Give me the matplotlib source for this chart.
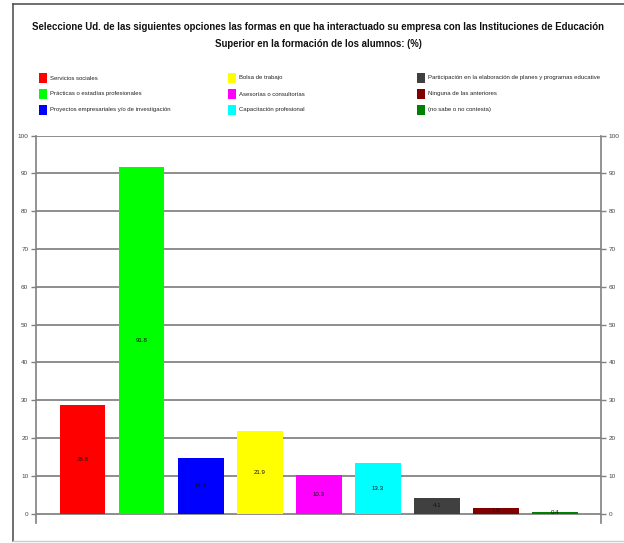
import numpy as np
import matplotlib.pyplot as plt
from matplotlib.patches import Rectangle
from matplotlib.lines import Line2D

categories = ['Servicios sociales',
              'Prácticas o estadías profesionales',
              'Proyectos empresariales y/o de investigación',
              'Bolsa de trabajo',
              'Asesorías o consultorías',
              'Capacitación profesional',
              'Participación en la elaboración de planes y programas educative',
              'Ninguna de las anteriores',
              '(no sabe o no contesta)']
values = [28.8, 91.8, 14.8, 21.9, 10.3, 13.3, 4.1, 1.5, 0.4]
colors = ['#ff0000', '#00ff00', '#0000ff', '#ffff00', '#ff00ff', '#00ffff',
          '#404040', '#800000', '#008000']
yticks = [0, 10, 20, 30, 40, 50, 60, 70, 80, 90, 100]

title = ('Seleccione Ud. de las siguientes opciones las formas en que ha interactuado su empresa con las Instituciones de Educación\n'
         'Superior en la formación de los alumnos: (%)')

plt.rcParams['font.family'] = ['Liberation Sans Narrow', 'Liberation Sans', 'DejaVu Sans']

W, H = 624, 543
fig = plt.figure(figsize=(W / 100, H / 100), dpi=100)

def fx(px):
    return px / W

def fy(py):
    return 1 - py / H

# outer frame
fig.add_artist(Line2D([fx(13), fx(13)], [fy(4), fy(541)], color='#555555', lw=1.2))
fig.add_artist(Line2D([fx(13), 1], [fy(4), fy(4)], color='#555555', lw=1.2))
fig.add_artist(Line2D([fx(13), 1], [fy(541), fy(541)], color='#cccccc', lw=1.0))

fig.text(fx(318), fy(35.5), title, ha='center', va='center', fontsize=6.9,
         fontweight='bold', linespacing=1.95, color='#111111')

# legend, three columns
col_x = [39, 228, 417]
row_y = [78, 94, 110]
for i, (cat, c) in enumerate(zip(categories, colors)):
    x0 = col_x[i // 3]
    y0 = row_y[i % 3]
    fig.add_artist(Rectangle((fx(x0), fy(y0 + 5)), 8 / W, 10 / H, facecolor=c,
                             edgecolor='none', transform=fig.transFigure))
    fig.text(fx(x0 + 11), fy(y0), cat, ha='left', va='center', fontsize=4.3,
             color='#222222')

ax = fig.add_axes([fx(36), fy(523), fx(600.7) - fx(36), fy(135.7) - fy(523)])
x = np.arange(len(values))
ax.bar(x, values, width=0.77, color=colors, zorder=3)
for xi, v in zip(x, values):
    ax.text(xi, v / 2, f'{v:.1f}', ha='center', va='center', fontsize=4.4,
            color='#111111', zorder=4)

ax.set_xlim(-0.79, 8.77)
ax.set_ylim(-2.5, 100)
ax.set_yticks(yticks)
ax.set_xticks([])
for t in yticks:
    ax.axhline(t, color='#7a7a7a', lw=1.2, zorder=1)
for s in ['top', 'bottom']:
    ax.spines[s].set_visible(False)
for s in ['left', 'right']:
    ax.spines[s].set_color('#808080')
    ax.spines[s].set_linewidth(1.2)
ax.tick_params(axis='y', which='both', left=True, right=True, labelleft=True,
               labelright=True, direction='out', length=3.5, width=1.0,
               color='#808080', labelsize=4.6, labelcolor='#444444', pad=2)

fig.savefig('out.png', dpi=100)
